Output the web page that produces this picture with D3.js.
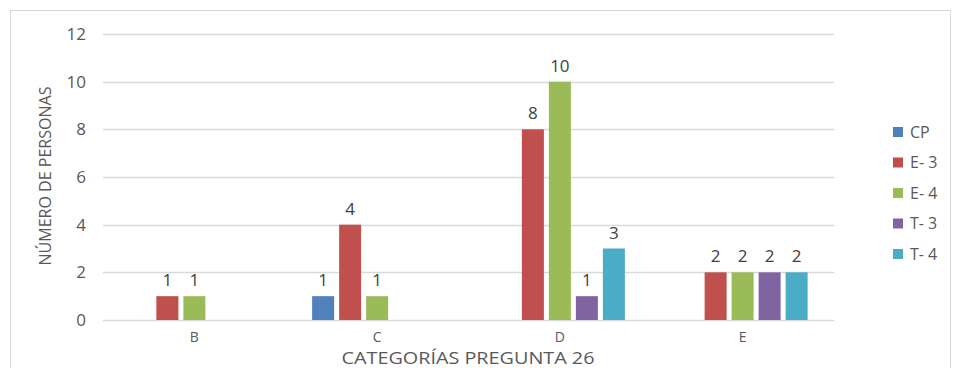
<!DOCTYPE html>
<html>
<head>
<meta charset="utf-8">
<script src="https://cdn.jsdelivr.net/npm/d3@7"></script>
<style>
  html, body { margin: 0; padding: 0; background: #fff; }
  svg { display: block; font-family: "Open Sans", "Noto Sans", sans-serif; }
</style>
</head>
<body>
<svg id="chart" width="954" height="368"></svg>
<script>
const categories = ["B", "C", "D", "E"];
const seriesNames = ["CP", "E- 3", "E- 4", "T- 3", "T- 4"];
const seriesColors = ["#4F81BD", "#C0504D", "#9BBB59", "#8064A2", "#4BACC6"];
// values per series, in category order
const cpValues = [0, 1, 0, 0];
const e3Values = [1, 4, 8, 2];
const e4Values = [1, 1, 10, 2];
const t3Values = [0, 0, 1, 2];
const t4Values = [0, 0, 3, 2];
const yTicks = [0, 2, 4, 6, 8, 10, 12];
const yTitle = "NÚMERO DE PERSONAS";
const xTitle = "CATEGORÍAS PREGUNTA 26";

const seriesValues = [cpValues, e3Values, e4Values, t3Values, t4Values];

const svg = d3.select("#chart");
const textColor = "#595959";

// outer chart frame
svg.append("rect")
  .attr("x", 10.5).attr("y", 10.5)
  .attr("width", 940).attr("height", 370)
  .attr("fill", "none").attr("stroke", "#d9d9d9");

const plot = { left: 103, right: 834, top: 34, bottom: 320 };

const y = d3.scaleLinear().domain([0, 12]).range([plot.bottom, plot.top]);
const x0 = d3.scaleBand().domain(categories).range([plot.left, plot.right]).padding(0);
const groupWidth = 130;
const x1 = d3.scaleBand().domain(seriesNames).range([0, groupWidth]).paddingInner(0.185);

// gridlines
svg.append("g").selectAll("line").data(yTicks).join("line")
  .attr("x1", plot.left).attr("x2", plot.right)
  .attr("y1", d => Math.round(y(d)) + 0.5).attr("y2", d => Math.round(y(d)) + 0.5)
  .attr("stroke", "#d9d9d9").attr("stroke-width", 1.5);

// y axis labels
const yAxis = d3.axisLeft(y).tickValues(yTicks).tickSize(0).tickPadding(0);
const yg = svg.append("g").attr("transform", `translate(${plot.left - 17},0)`).call(yAxis);
yg.select(".domain").remove();
yg.selectAll("text").attr("fill", textColor).style("font-size", "17px")
  .style("font-family", "'Open Sans', sans-serif");

// x axis labels
const xAxis = d3.axisBottom(x0).tickSize(0).tickPadding(0);
const xg = svg.append("g").attr("transform", `translate(0,${plot.bottom + 12})`).call(xAxis);
xg.select(".domain").remove();
xg.selectAll("text").attr("fill", textColor).style("font-size", "14px")
  .style("font-family", "'Open Sans', sans-serif");

// bars
const groups = svg.append("g").selectAll("g").data(categories).join("g")
  .attr("transform", c => `translate(${x0(c) + (x0.bandwidth() - groupWidth) / 2},0)`);

const cells = groups.selectAll("g").data((c, ci) => seriesNames.map((s, si) => ({
  series: s, si, value: seriesValues[si][ci]
}))).join("g");

cells.filter(d => d.value > 0).append("rect")
  .attr("x", d => x1(d.series))
  .attr("width", x1.bandwidth())
  .attr("y", d => y(d.value))
  .attr("height", d => y(0) - y(d.value))
  .attr("fill", d => seriesColors[d.si]);

cells.filter(d => d.value > 0).append("text")
  .attr("x", d => x1(d.series) + x1.bandwidth() / 2)
  .attr("y", d => y(d.value) - 10)
  .attr("text-anchor", "middle")
  .attr("fill", "#404040")
  .style("font-size", "17px")
  .text(d => d.value);

// axis titles
svg.append("text")
  .attr("transform", `translate(51,${(plot.top + plot.bottom) / 2 - 1}) rotate(-90)`)
  .attr("text-anchor", "middle")
  .attr("fill", textColor)
  .style("font-size", "16px")
  .attr("textLength", 179)
  .attr("lengthAdjust", "spacingAndGlyphs")
  .text(yTitle);

svg.append("text")
  .attr("x", 468).attr("y", 364)
  .attr("text-anchor", "middle")
  .attr("fill", textColor)
  .style("font-size", "16px")
  .attr("textLength", 253)
  .attr("lengthAdjust", "spacingAndGlyphs")
  .text(xTitle);

// legend
const legend = svg.append("g").selectAll("g").data(seriesNames).join("g")
  .attr("transform", (d, i) => `translate(893,${132 + i * 30.5})`);
legend.append("rect")
  .attr("x", 0).attr("y", -5).attr("width", 10).attr("height", 10)
  .attr("fill", (d, i) => seriesColors[i]);
legend.append("text")
  .attr("x", 17).attr("y", 0).attr("dy", "0.35em")
  .attr("fill", textColor)
  .style("font-size", "16px")
  .text(d => d);
</script>
</body>
</html>
